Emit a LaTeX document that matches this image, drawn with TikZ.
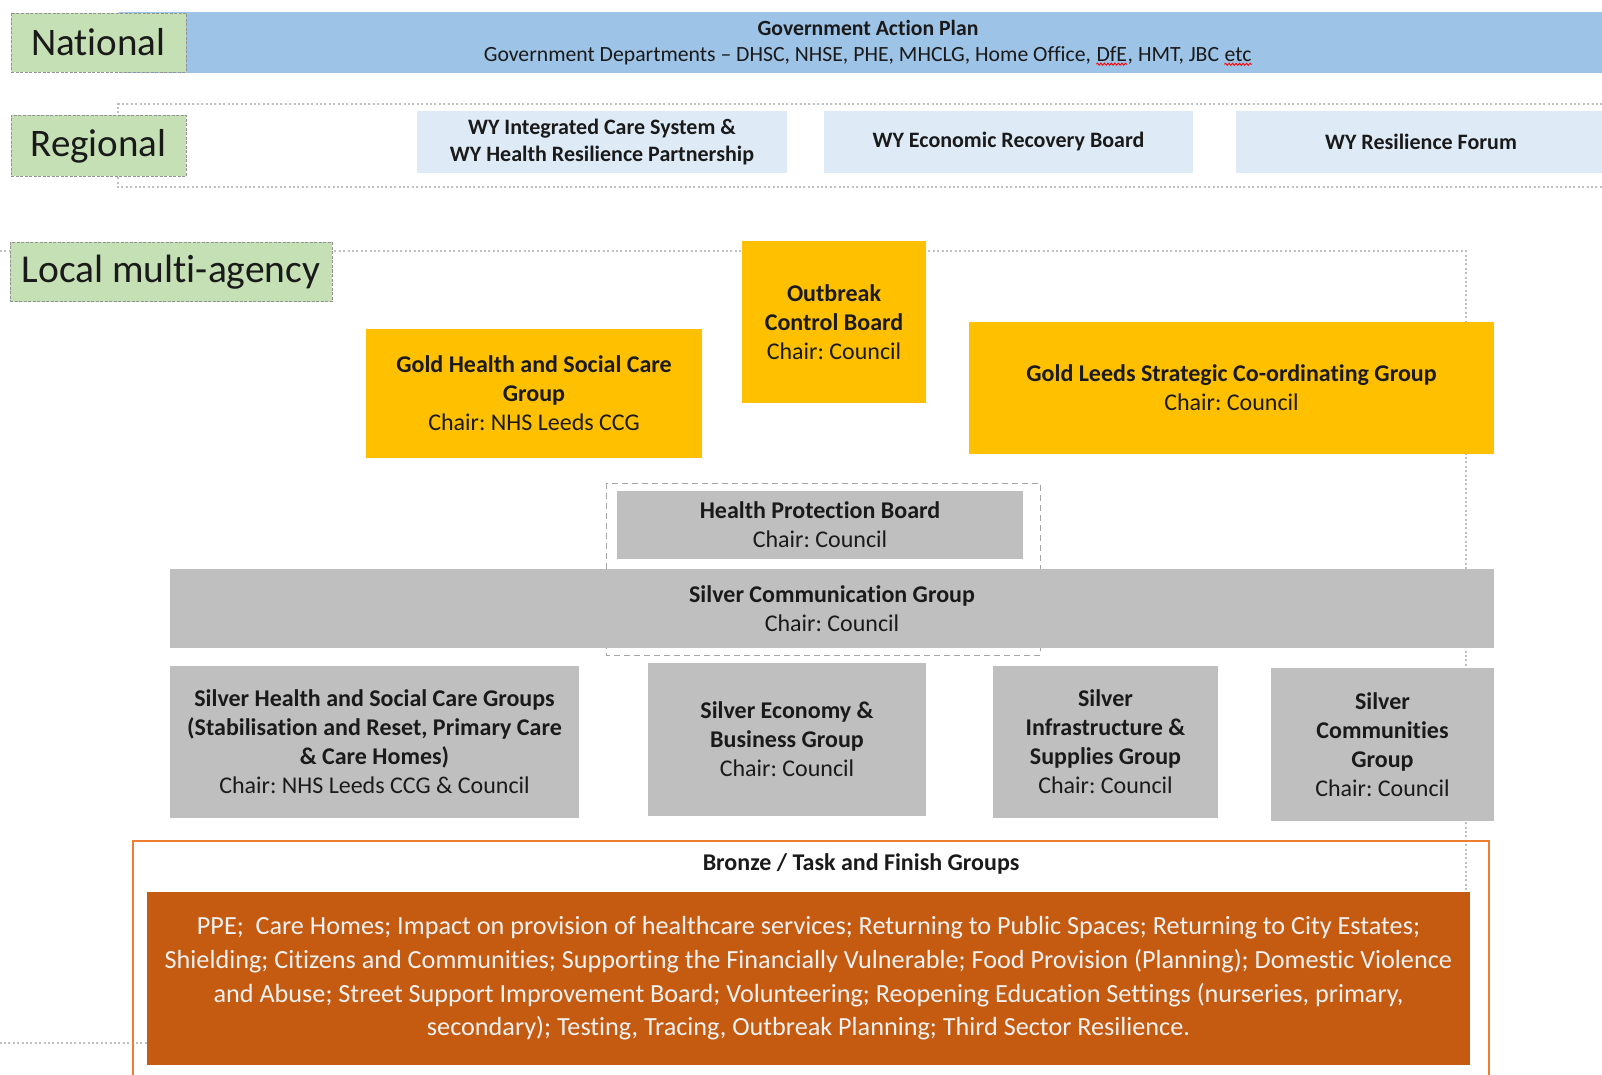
\documentclass[tikz,border=0pt]{standalone}
\usepackage{fontspec}
\setmainfont{Carlito}[Ligatures=NoCommon]
\usetikzlibrary{decorations.pathmorphing}
\frenchspacing

\definecolor{tiergreen}{HTML}{C5E0B4}
\definecolor{natblue}{HTML}{9DC3E6}
\definecolor{regblue}{HTML}{DEEBF7}
\definecolor{goldfill}{HTML}{FFC000}
\definecolor{silverfill}{HTML}{BFBFBF}
\definecolor{bronzefill}{HTML}{C55A11}
\definecolor{bronzeline}{HTML}{ED7D31}
\definecolor{dotgrey}{HTML}{C0C0C0}
\definecolor{ink}{HTML}{1A1A1A}

\tikzset{
	tierlabel/.style={draw=gray!85, dash pattern=on 3pt off 1.5pt, line width=0.8pt, fill=tiergreen, inner sep=0pt, text=ink, font=\fontsize{39}{46}\selectfont},
	tierline/.style={draw=dotgrey, line width=2pt, dash pattern=on 2pt off 2.4pt},
	orgbox/.style={inner sep=0pt, align=center, text=ink, font=\fontsize{24}{29}\selectfont},
	goldbox/.style={orgbox, fill=goldfill},
	silverbox/.style={orgbox, fill=silverfill},
	regbox/.style={orgbox, fill=regblue, font=\fontsize{22}{27.5}\selectfont\bfseries},
	govbar/.style={orgbox, fill=natblue, font=\fontsize{21.7}{26}\selectfont},
	taskbox/.style={orgbox, fill=bronzefill, text=white!95!black, font=\fontsize{26.2}{33.7}\selectfont}
}

% red spell-check wave under a word
\newcommand{\spellmark}[1]{\tikz[baseline=(sp.base)]{\node[inner sep=0pt, minimum width=0pt, minimum height=0pt, fill=none, draw=none] (sp) {#1};
	\draw[red, line width=0.9pt, decorate, decoration={snake, amplitude=1pt, segment length=3.5pt}] ([yshift=-2.5pt]sp.south west) -- ([yshift=-2.5pt]sp.south east);}}

\begin{document}
\begin{tikzpicture}[x=1pt, y=-1pt]
	\useasboundingbox[fill=white] (0,0) rectangle (1602,1075);

	% dotted frames of the regional and local tiers
	\draw[tierline] (1620,104) -- (118,104) -- (118,187) -- (1620,187);
	\draw[tierline] (0,251) -- (1466,251) -- (1466,1043) -- (0,1043);

	% national
	\node[govbar, minimum width=1498, minimum height=61] (govplan) at (868,43)
		{\textbf{Government Action Plan}\\Government Departments -- DHSC, NHSE, PHE, MHCLG, Home Office, \spellmark{DfE}, HMT, JBC \spellmark{etc}};
	\node[tierlabel, minimum width=175, minimum height=59] (national) at (98.5,42.5) {National};

	% regional
	\node[tierlabel, minimum width=175, minimum height=61] (regional) at (98.5,146) {Regional};
	\node[regbox, minimum width=370, minimum height=62] (wyics) at (602,142) {WY Integrated Care System \&\\WY Health Resilience Partnership};
	\node[regbox, minimum width=369, minimum height=62] (wyerb) at (1008.5,142) {WY Economic Recovery Board};
	\node[regbox, minimum width=370, minimum height=62] (wyrf) at (1421,142) {WY Resilience Forum};

	% local gold
	\node[tierlabel, minimum width=322, minimum height=59, font=\fontsize{39.5}{46}\selectfont] (local) at (171,272) {Local multi-agency};
	\node[goldbox, minimum width=184, minimum height=162] (outbreak) at (834,322) {\textbf{Outbreak}\\\textbf{Control Board}\\Chair: Council};
	\node[goldbox, minimum width=336, minimum height=129] (goldhsc) at (534,393.5) {\textbf{Gold Health and Social Care}\\\textbf{Group}\\Chair: NHS Leeds CCG};
	\node[goldbox, minimum width=525, minimum height=132] (goldscg) at (1231.5,388) {\textbf{Gold Leeds Strategic Co-ordinating Group}\\Chair: Council};

	% local silver
	\draw[draw=gray!70, line width=1pt, dash pattern=on 6pt off 4pt] (606,483) rectangle (1040,655);
	\node[silverbox, minimum width=406, minimum height=68] (hpb) at (820,525) {\textbf{Health Protection Board}\\Chair: Council};
	\node[silverbox, minimum width=1324, minimum height=79] (silvercomm) at (832,608.5) {\textbf{Silver Communication Group}\\Chair: Council};
	\node[silverbox, minimum width=409, minimum height=152] (silverhsc) at (374.5,742) {\textbf{Silver Health and Social Care Groups}\\\textbf{(Stabilisation and Reset, Primary Care}\\\textbf{\& Care Homes)}\\Chair: NHS Leeds CCG \& Council};
	\node[silverbox, minimum width=278, minimum height=153] (silverecon) at (787,739.5) {\textbf{Silver Economy \&}\\\textbf{Business Group}\\Chair: Council};
	\node[silverbox, minimum width=225, minimum height=152] (silverinfra) at (1105.5,742) {\textbf{Silver}\\\textbf{Infrastructure \&}\\\textbf{Supplies Group}\\Chair: Council};
	\node[silverbox, minimum width=223, minimum height=153] (silvercomms) at (1382.5,744.5) {\textbf{Silver}\\\textbf{Communities}\\\textbf{Group}\\Chair: Council};

	% bronze
	\draw[bronzeline, line width=1.5pt] (133,1090) -- (133,841) -- (1489,841) -- (1489,1090);
	\node[orgbox, font=\fontsize{24}{29}\selectfont\bfseries] (bronzelabel) at (861,864) {Bronze / Task and Finish Groups};
	\node[taskbox, minimum width=1323, minimum height=173] (tasks) at (808.5,978.5)
		{PPE;\ \ Care Homes; Impact on provision of healthcare services; Returning to Public Spaces; Returning to City Estates;\\
		Shielding; Citizens and Communities; Supporting the Financially Vulnerable; Food Provision (Planning); Domestic Violence\\
		and Abuse; Street Support Improvement Board; Volunteering; Reopening Education Settings (nurseries, primary,\\
		secondary); Testing, Tracing, Outbreak Planning; Third Sector Resilience.};
\end{tikzpicture}
\end{document}
